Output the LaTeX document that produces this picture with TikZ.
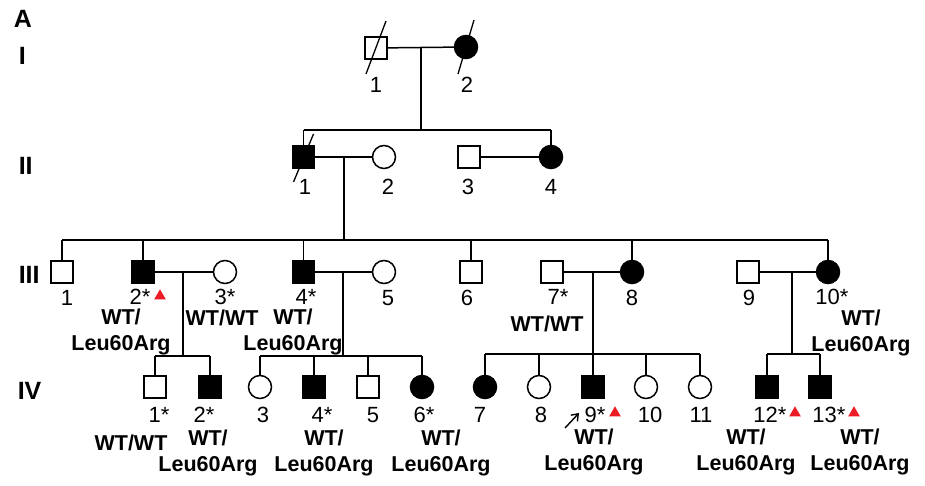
\documentclass[tikz,border=0pt]{standalone}
\usepackage{fontspec}
\setmainfont{Liberation Sans}
\usetikzlibrary{shapes.geometric,arrows.meta,calc}
\definecolor{markred}{RGB}{237,28,36}

\begin{document}
\begin{tikzpicture}[x=1pt,y=-1pt,
  line width=1.5pt,
  ind/.style={draw, line width=1.5pt, inner sep=0pt, fill=white},
  male/.style={ind, rectangle, minimum size=22pt},
  female/.style={ind, circle, minimum size=23pt},
  aff/.style={fill=black},
  num/.style={font=\fontsize{22}{26}\selectfont, inner sep=0pt},
  geno/.style={font=\bfseries\fontsize{21.5}{26}\selectfont, inner sep=0pt, align=center},
  gen/.style={font=\bfseries\fontsize{25}{28}\selectfont, inner sep=0pt, anchor=west},
  redtri/.style={regular polygon, regular polygon sides=3, fill=markred, inner sep=0pt, minimum size=13.5pt},
  slash/.style={line width=1.3pt}
]
\path[use as bounding box] (0,0) rectangle (925,486);

% panel and generation labels
\node[gen] (lblA) at (13,19) {A};
\node[gen] (genI) at (18,56) {I};
\node[gen] (genII) at (18,166) {II};
\node[gen] (genIII) at (18,275) {III};
\node[gen] (genIV) at (17,391) {IV};

% generation I
\node[male] (i1) at (376,48) {};
\node[female, aff] (i2) at (466,47) {};
% generation II
\node[male, aff] (ii1) at (303.5,157) {};
\node[female] (ii2) at (384,157) {};
\node[male] (ii3) at (469,157) {};
\node[female, aff] (ii4) at (551,157) {};
% generation III
\node[male] (iii1) at (62,272) {};
\node[male, aff] (iii2) at (143,272) {};
\node[female] (iii3) at (225,272) {};
\node[male, aff] (iii4) at (303.5,272) {};
\node[female] (iii5) at (384,272) {};
\node[male] (iii6) at (471,272) {};
\node[male] (iii7) at (552,272) {};
\node[female, aff] (iii8) at (632,272) {};
\node[male] (iii9) at (748,272) {};
\node[female, aff] (iii10) at (828,272) {};
% generation IV
\node[male] (iv1) at (155,387) {};
\node[male, aff] (iv2) at (210,387) {};
\node[female] (iv3) at (260,387) {};
\node[male, aff] (iv4) at (314,387) {};
\node[male] (iv5) at (368,387) {};
\node[female, aff] (iv6) at (422,387) {};
\node[female, aff] (iv7) at (485,387) {};
\node[female] (iv8) at (539,387) {};
\node[male, aff] (iv9) at (593,387) {};
\node[female] (iv10) at (646,387) {};
\node[female] (iv11) at (700,387) {};
\node[male, aff] (iv12) at (767,387) {};
\node[male, aff] (iv13) at (820,387) {};

% mating and descent junctions
\coordinate (m1) at (421,47);
\coordinate (s2) at (421,130);
\coordinate (m2) at (344,157);
\coordinate (s3) at (344,240);
\coordinate (m3a) at (183,272);
\coordinate (s4a) at (183,356);
\coordinate (m3b) at (343,272);
\coordinate (s4b) at (343,356);
\coordinate (m3c) at (593,272);
\coordinate (s4c) at (593,354);
\coordinate (m3d) at (792,272);
\coordinate (s4d) at (792,354);

% generation I -> II
\draw (i1) -- (i2);
\draw (m1) -- (s2);
\draw (ii1 |- s2) -- (ii4 |- s2);
\draw (ii1 |- s2) -- (ii1);
\draw (ii4 |- s2) -- (ii4);
\draw (ii3) -- (ii4);

% generation II -> III
\draw (ii1) -- (ii2);
\draw (m2) -- (s3);
\draw (iii1 |- s3) -- (iii10 |- s3);
\foreach \c in {iii1,iii2,iii4,iii6,iii8,iii10}
  \draw (\c |- s3) -- (\c);

% generation III -> IV
\draw (iii2) -- (iii3);
\draw (m3a) -- (s4a);
\draw (iv1 |- s4a) -- (iv2 |- s4a);
\foreach \c in {iv1,iv2} \draw (\c |- s4a) -- (\c);

\draw (iii4) -- (iii5);
\draw (m3b) -- (s4b);
\draw (iv3 |- s4b) -- (iv6 |- s4b);
\foreach \c in {iv3,iv4,iv5,iv6} \draw (\c |- s4b) -- (\c);

\draw (iii7) -- (iii8);
\draw (m3c) -- (s4c);
\draw (iv7 |- s4c) -- (iv11 |- s4c);
\foreach \c in {iv7,iv8,iv9,iv10,iv11} \draw (\c |- s4c) -- (\c);

\draw (iii9) -- (iii10);
\draw (m3d) -- (s4d);
\draw (iv12 |- s4d) -- (iv13 |- s4d);
\foreach \c in {iv12,iv13} \draw (\c |- s4d) -- (\c);

% deceased marks
\draw[slash] ($(i1)+(-10,26)$) -- ($(i1)+(10,-27)$);
\draw[slash] ($(i2)+(-8,27)$) -- ($(i2)+(8,-27)$);
\draw[slash] ($(ii1)+(-10,25)$) -- ($(ii1)+(10,-23)$);

% individual numbers
\node[num] (n-i1) at (376,85) {1};
\node[num] (n-i2) at (467,85) {2};
\node[num] (n-ii1) at (305,187) {1};
\node[num] (n-ii2) at (388,187) {2};
\node[num] (n-ii3) at (468,187) {3};
\node[num] (n-ii4) at (551,187) {4};
\node[num] (n-iii1) at (67,298) {1};
\node[num] (n-iii2) at (140,297) {2*};
\node[num] (n-iii3) at (225,297) {3*};
\node[num] (n-iii4) at (306,297) {4*};
\node[num] (n-iii5) at (388,298) {5};
\node[num] (n-iii6) at (467,298) {6};
\node[num] (n-iii7) at (558,297) {7*};
\node[num] (n-iii8) at (632,298) {8};
\node[num] (n-iii9) at (749,298) {9};
\node[num] (n-iii10) at (832,297) {10*};
\node[num] (n-iv1) at (159,415) {1*};
\node[num] (n-iv2) at (204,415) {2*};
\node[num] (n-iv3) at (263,415) {3};
\node[num] (n-iv4) at (322,415) {4*};
\node[num] (n-iv5) at (373,415) {5};
\node[num] (n-iv6) at (424,415) {6*};
\node[num] (n-iv7) at (480,415) {7};
\node[num] (n-iv8) at (541,415) {8};
\node[num] (n-iv9) at (595,415) {9*};
\node[num] (n-iv10) at (650,415) {10};
\node[num] (n-iv11) at (701,415) {11};
\node[num] (n-iv12) at (770,415) {12*};
\node[num] (n-iv13) at (829,415) {13*};

% variant carriers flagged in red
\node[redtri] (t-iii2) at (160,296) {};
\node[redtri] (t-iv9) at (615,413) {};
\node[redtri] (t-iv12) at (795,413) {};
\node[redtri] (t-iv13) at (854,413) {};

% genotypes
\node[geno] (g-iii2) at (121,332) {WT/\\Leu60Arg};
\node[geno] (g-iii3) at (222,318) {WT/WT};
\node[geno] (g-iii4) at (293,332) {WT/\\Leu60Arg};
\node[geno] (g-iii7) at (547,324) {WT/WT};
\node[geno] (g-iii10) at (861,333) {WT/\\Leu60Arg};
\node[geno] (g-iv1) at (131,443) {WT/WT};
\node[geno] (g-iv2) at (208,453) {WT/\\Leu60Arg};
\node[geno] (g-iv4) at (324,453) {WT/\\Leu60Arg};
\node[geno] (g-iv6) at (441,453) {WT/\\Leu60Arg};
\node[geno] (g-iv9) at (594,452) {WT/\\Leu60Arg};
\node[geno] (g-iv12) at (746,452) {WT/\\Leu60Arg};
\node[geno] (g-iv13) at (860,452) {WT/\\Leu60Arg};

% proband arrow
\coordinate (arrS) at (565,428);
\coordinate (arrT) at (579,413);
\draw[line width=1.4pt, -{Straight Barb[length=6pt,width=9pt]}] (arrS) -- (arrT);
\end{tikzpicture}
\end{document}
